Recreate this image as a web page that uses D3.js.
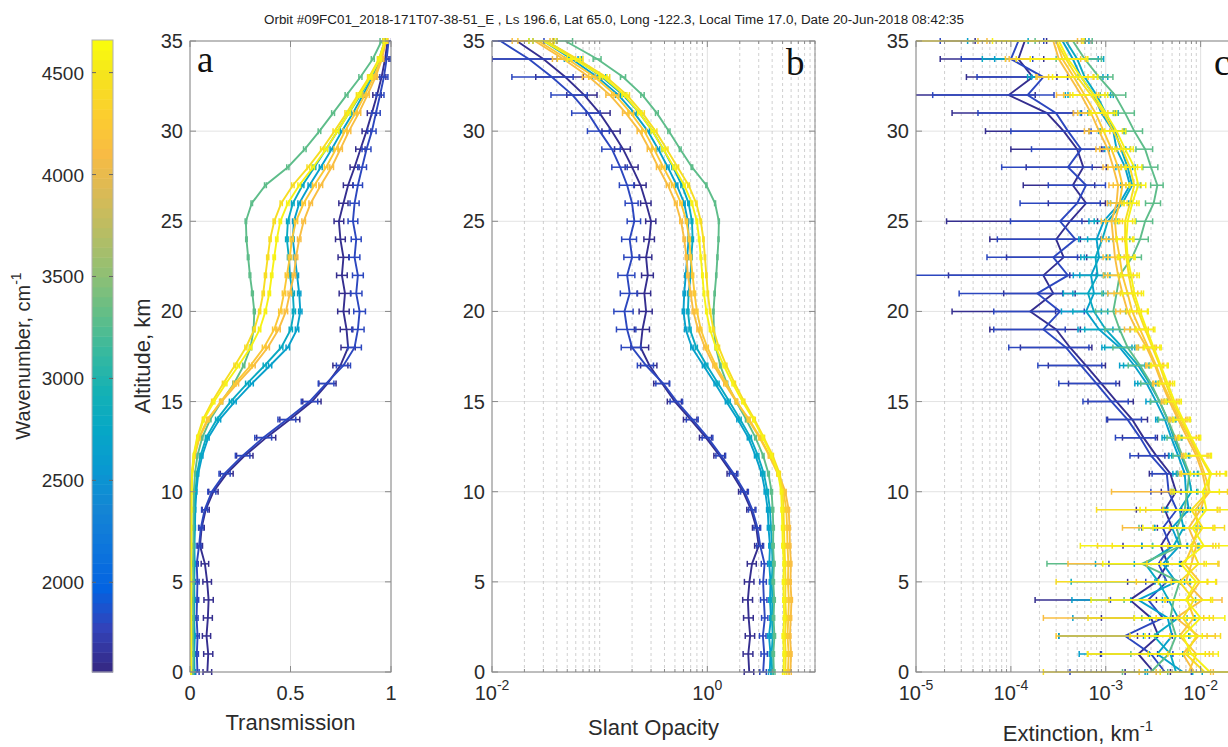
<!DOCTYPE html>
<html><head><meta charset="utf-8">
<script src="https://cdn.jsdelivr.net/npm/d3@7"></script>
<style>
body{margin:0;background:#fff}
svg{display:block;font-family:'Liberation Sans',Arial,Helvetica,sans-serif}
</style>
</head><body>
<svg id="chart" width="1228" height="747"></svg>
<script>
// ---------------- DATA ----------------
const titleText = "Orbit #09FC01_2018-171T07-38-51_E , Ls 196.6, Lat 65.0, Long -122.3, Local Time 17.0, Date 20-Jun-2018 08:42:35";
const altitudeKm = [0,1,2,3,4,5,6,7,8,9,10,11,12,13,14,15,16,17,18,19,20,21,22,23,24,25,26,27,28,29,30,31,32,33,34,35];
const wavenumbers = [1590, 1780, 2650, 2780, 3300, 4150, 4250, 4450, 4600];

// slant opacity (transmission = exp(-slant opacity))
const opacity1590 = [2.45,2.40,2.50,2.42,2.38,2.46,2.60,3.00,2.85,2.55,2.15,1.70,1.30,0.97,0.70,0.50,0.38,0.29,0.24,0.25,0.27,0.26,0.28,0.27,0.29,0.30,0.27,0.24,0.20,0.165,0.13,0.10,0.072,0.048,0.030,0.017];
const opacity1780 = [3.30,3.38,3.28,3.42,3.35,3.30,3.40,3.10,2.92,2.62,2.22,1.76,1.34,1.01,0.73,0.52,0.39,0.27,0.20,0.18,0.17,0.19,0.18,0.20,0.19,0.21,0.20,0.18,0.155,0.13,0.10,0.078,0.056,0.036,0.022,0.012];
const opacity2650 = [3.80,3.86,3.74,3.90,3.82,3.86,3.76,3.82,3.70,3.64,3.45,3.20,2.80,2.40,1.92,1.50,1.18,0.92,0.72,0.63,0.60,0.61,0.63,0.65,0.67,0.66,0.61,0.52,0.43,0.35,0.28,0.21,0.15,0.095,0.055,0.030];
const opacity2780 = [4.00,3.95,4.05,3.98,4.02,3.96,4.04,3.98,3.90,3.82,3.62,3.35,2.95,2.52,2.02,1.60,1.26,0.99,0.79,0.69,0.66,0.67,0.70,0.71,0.73,0.72,0.67,0.58,0.48,0.39,0.31,0.235,0.165,0.105,0.060,0.032];
const opacity3300 = [4.15,4.10,4.20,4.12,4.18,4.10,4.16,4.08,4.10,4.05,3.95,3.70,3.30,2.80,2.30,1.85,1.52,1.32,1.20,1.15,1.14,1.17,1.21,1.24,1.27,1.28,1.18,0.98,0.72,0.56,0.44,0.34,0.25,0.165,0.095,0.048];
const opacity4150 = [5.90,6.00,5.85,5.95,6.05,5.90,5.98,5.85,5.80,5.70,5.30,4.60,3.80,3.10,2.45,1.85,1.45,1.15,0.95,0.82,0.74,0.70,0.66,0.64,0.61,0.57,0.51,0.43,0.35,0.29,0.235,0.175,0.125,0.080,0.046,0.025];
const opacity4250 = [5.60,5.70,5.55,5.65,5.72,5.60,5.66,5.55,5.50,5.42,5.10,4.50,3.75,3.05,2.40,1.88,1.50,1.20,1.00,0.87,0.80,0.76,0.73,0.70,0.68,0.64,0.57,0.48,0.39,0.32,0.26,0.195,0.14,0.090,0.050,0.027];
const opacity4450 = [5.30,5.35,5.25,5.40,5.30,5.32,5.28,5.20,5.15,5.10,5.00,4.70,4.05,3.35,2.75,2.20,1.80,1.50,1.28,1.14,1.06,1.01,0.98,0.95,0.92,0.87,0.79,0.67,0.53,0.42,0.33,0.25,0.18,0.115,0.062,0.032];
const opacity4600 = [5.10,5.15,5.05,5.18,5.12,5.08,5.14,5.02,4.98,4.92,4.85,4.55,3.95,3.28,2.68,2.12,1.72,1.42,1.20,1.06,0.98,0.93,0.90,0.87,0.84,0.80,0.72,0.61,0.49,0.39,0.31,0.235,0.17,0.108,0.058,0.030];
// typical 1-sigma slant opacity error by altitude, and per-wavenumber factor
const opacityErr = [0.10,0.10,0.10,0.10,0.10,0.10,0.10,0.10,0.09,0.09,0.08,0.07,0.06,0.05,0.04,0.03,0.025,0.02,0.018,0.016,0.015,0.015,0.014,0.014,0.013,0.013,0.012,0.012,0.011,0.011,0.010,0.010,0.009,0.009,0.008,0.008];
const opacityErrFactor = [2.5, 2.3, 1.0, 1.0, 1.0, 1.2, 1.2, 1.0, 1.0];

// extinction, in units of 1e-3 km^-1
const extinction1590 = [3.2,2.2,3.6,3.0,1.8,3.4,4.5,3.8,5.0,4.2,5.5,4.8,3.4,2.5,1.9,1.3,0.9,0.62,0.42,0.30,0.16,0.28,0.22,0.36,0.30,0.42,0.62,0.45,0.58,0.50,0.36,0.24,0.095,0.17,0.12,0.14];
const extinction1780 = [4.2,3.0,1.6,4.0,2.8,4.4,3.6,4.8,4.0,5.6,4.6,4.4,3.0,2.3,1.7,1.15,0.8,0.55,0.38,0.22,0.33,0.19,0.40,0.28,0.48,0.33,0.50,0.62,0.40,0.55,0.40,0.30,0.15,0.22,0.10,0.12];
const extinction2650 = [6.5,3.5,5.0,4.5,2.2,5.5,4.0,6.0,5.0,7.5,7.0,6.8,5.8,4.9,4.2,3.4,2.7,2.0,1.4,0.85,0.62,0.75,0.70,0.85,0.80,0.95,1.4,1.8,1.6,1.3,1.2,0.9,0.75,0.55,0.45,0.35];
const extinction2780 = [5.5,4.8,3.2,5.8,4.6,3.6,2.6,5.2,6.6,6.0,8.0,7.4,6.2,5.2,4.5,3.7,2.9,2.2,1.5,1.0,0.75,0.65,0.82,0.78,0.92,1.05,1.5,1.9,1.7,1.45,1.25,1.0,0.8,0.6,0.5,0.38];
const extinction3300 = [3.0,4.6,5.5,4.8,5.2,6.0,2.4,6.2,5.6,6.8,7.2,7.6,6.4,5.4,4.5,3.7,3.0,2.3,1.7,1.4,1.2,1.3,1.4,1.9,2.3,2.6,3.2,3.5,3.0,2.6,2.0,1.6,1.25,0.85,0.6,0.45];
const extinction4150 = [8.5,6.5,9.5,5.5,10.5,7.0,8.0,9.0,7.5,10.0,11.5,10.5,9.0,7.2,5.8,4.7,3.9,3.3,2.7,2.1,1.7,1.5,1.35,1.25,1.2,1.15,1.3,1.35,1.2,1.05,0.85,0.7,0.55,0.42,0.32,0.28];
const extinction4250 = [7.5,9.0,6.0,8.5,7.2,9.8,6.8,8.2,9.4,8.8,12.5,11.0,9.4,7.6,6.0,4.9,4.0,3.4,2.8,2.3,1.9,1.7,1.5,1.4,1.3,1.25,1.4,1.5,1.35,1.15,0.95,0.78,0.6,0.46,0.35,0.3];
const extinction4450 = [11.0,7.0,9.0,6.5,8.5,6.0,9.5,7.8,10.5,8.0,12.0,12.5,9.8,7.8,6.3,5.1,4.3,3.7,3.1,2.6,2.2,1.9,1.75,1.65,1.6,1.6,1.8,2.0,1.8,1.5,1.2,0.95,0.7,0.5,0.38,0.3];
const extinction4600 = [12.5,8.0,6.5,10.0,7.0,9.0,6.2,10.8,8.2,11.5,10.5,13.0,10.0,8.0,6.5,5.3,4.5,3.8,3.2,2.7,2.3,2.0,1.85,1.7,1.65,1.7,1.9,2.2,2.0,1.6,1.3,1.0,0.75,0.55,0.4,0.32];
// extinction relative 1-sigma error
const extRelErr1590 = [0.5,0.6,0.4,0.7,0.9,0.5,0.4,0.6,0.3,0.5,0.3,0.4,0.35,0.4,0.45,0.5,0.55,0.6,0.7,0.8,0.85,0.7,0.9,0.75,0.8,0.95,0.6,0.7,0.75,0.8,0.85,0.9,0.9,0.8,0.85,0.7];
const extRelErr1780 = [0.9,0.7,0.8,0.5,0.6,0.4,0.7,0.5,0.4,0.3,0.35,0.3,0.4,0.45,0.4,0.5,0.6,0.65,0.75,0.7,0.8,0.85,0.99,0.8,0.85,0.7,0.75,0.6,0.8,0.7,0.75,0.85,0.9,0.8,0.7,0.85];
const extRelErr2650 = [0.6,0.85,0.5,0.9,0.8,0.4,0.5,0.6,0.35,0.4,0.3,0.25,0.2,0.2,0.2,0.22,0.25,0.3,0.35,0.4,0.45,0.4,0.35,0.3,0.35,0.3,0.25,0.2,0.2,0.25,0.3,0.4,0.5,0.7,0.85,0.9];
const extRelErr2780 = [0.5,0.4,0.9,0.5,0.6,0.88,0.7,0.4,0.5,0.3,0.35,0.25,0.2,0.2,0.22,0.2,0.25,0.3,0.35,0.4,0.4,0.45,0.35,0.3,0.3,0.28,0.25,0.22,0.2,0.25,0.3,0.35,0.5,0.75,0.9,0.6];
const extRelErr3300 = [0.5,0.6,0.4,0.5,0.7,0.3,0.9,0.5,0.6,0.4,0.3,0.25,0.2,0.18,0.2,0.2,0.22,0.25,0.3,0.3,0.35,0.3,0.3,0.25,0.22,0.2,0.18,0.15,0.18,0.2,0.22,0.25,0.3,0.4,0.5,0.6];
const extRelErr4150 = [0.6,0.9,0.5,0.96,0.6,0.7,0.95,0.5,0.8,0.6,0.9,0.4,0.3,0.25,0.2,0.18,0.2,0.2,0.22,0.25,0.25,0.3,0.3,0.25,0.25,0.22,0.2,0.2,0.22,0.25,0.3,0.35,0.45,0.55,0.7,0.8];
const extRelErr4250 = [0.7,0.5,0.95,0.6,0.85,0.5,0.6,0.9,0.5,0.7,0.6,0.45,0.3,0.25,0.2,0.18,0.2,0.2,0.22,0.22,0.25,0.28,0.3,0.25,0.22,0.2,0.2,0.2,0.22,0.25,0.3,0.35,0.4,0.6,0.75,0.85];
const extRelErr4450 = [0.98,0.6,0.8,0.9,0.5,0.95,0.6,0.85,0.7,0.9,0.6,0.5,0.3,0.25,0.2,0.18,0.18,0.2,0.2,0.22,0.25,0.25,0.22,0.2,0.2,0.2,0.18,0.18,0.2,0.22,0.25,0.3,0.4,0.5,0.7,0.99];
const extRelErr4600 = [0.7,0.92,0.6,0.8,0.9,0.6,0.85,0.95,0.7,0.8,0.5,0.4,0.3,0.25,0.2,0.18,0.18,0.2,0.2,0.22,0.22,0.25,0.22,0.2,0.2,0.2,0.18,0.2,0.2,0.22,0.25,0.3,0.4,0.5,0.6,0.8];

const altitudeTicks = [0,5,10,15,20,25,30,35];
const colorbarTicks = [2000,2500,3000,3500,4000,4500];
const colorbarRange = [1560, 4660];

// parula colormap stops (colormap, not data)
const parulaStops = [[0.2081,0.1663,0.5292],[0.1959,0.2645,0.7279],[0.0117,0.3875,0.8820],[0.0498,0.4586,0.8641],[0.0793,0.5200,0.8312],[0.0343,0.5966,0.8199],[0.0228,0.6535,0.7768],[0.0843,0.6928,0.7062],[0.2178,0.7250,0.6193],[0.3953,0.7459,0.5244],[0.5709,0.7485,0.4494],[0.7184,0.7411,0.3905],[0.8507,0.7299,0.3360],[0.9739,0.7314,0.2666],[0.9880,0.8066,0.1794],[0.9589,0.8949,0.1132],[0.9763,0.9831,0.0538]];
const parulaPos = [0,4,8,12,16,20,24,28,32,36,40,44,48,52,56,60,63];

// ---------------- BUILD ----------------
const opacities = [opacity1590,opacity1780,opacity2650,opacity2780,opacity3300,opacity4150,opacity4250,opacity4450,opacity4600];
const extinctions = [extinction1590,extinction1780,extinction2650,extinction2780,extinction3300,extinction4150,extinction4250,extinction4450,extinction4600];
const extErrs = [extRelErr1590,extRelErr1780,extRelErr2650,extRelErr2780,extRelErr3300,extRelErr4150,extRelErr4250,extRelErr4450,extRelErr4600];

const parula = d3.scaleLinear().domain(parulaPos.map(p=>p/63))
  .range(parulaStops.map(c=>d3.rgb(c[0]*255,c[1]*255,c[2]*255).formatHex()))
  .interpolate(d3.interpolateRgb).clamp(true);
const wnColor = wn => parula((wn-colorbarRange[0])/(colorbarRange[1]-colorbarRange[0]));

const series = wavenumbers.map((wn,i)=>({
  wn, color: wnColor(wn),
  a: altitudeKm.map((h,k)=>{const T=Math.exp(-opacities[i][k]); const s=T*opacityErr[k]*opacityErrFactor[i]; return {h,v:T,lo:T-s,hi:T+s};}),
  b: altitudeKm.map((h,k)=>{const t=opacities[i][k]; const s=opacityErr[k]*opacityErrFactor[i]; return {h,v:t,lo:t-s,hi:t+s};}),
  c: altitudeKm.map((h,k)=>{const e=extinctions[i][k]*1e-3; const s=e*extErrs[i][k]; return {h,v:e,lo:e-s,hi:e+s};})
}));

const svg = d3.select('#chart');
const TXT = '#2b2b2b', AX = '#8a8a8a';
const y = d3.scaleLinear().domain([0,35]).range([672,41]);

svg.append('text').attr('x',614).attr('y',24).attr('text-anchor','middle')
  .attr('font-size',12).attr('fill','#222').attr('textLength',700).attr('lengthAdjust','spacingAndGlyphs').text(titleText);

const panels = [
  {id:'a', x:d3.scaleLinear().domain([0,1]).range([190,391]), log:false, major:[0,0.5,1], title:'Transmission', titleY:730, letter:'a', lx:197, ly:72},
  {id:'b', x:d3.scaleLog().domain([0.01,10]).range([492,815]), log:true, major:[0.01,1], title:'Slant Opacity', titleY:735, letter:'b', lx:786, ly:75},
  {id:'c', x:d3.scaleLog().domain([1e-5,0.026]).range([916,1240]), log:true, major:[1e-5,1e-4,1e-3,1e-2], title:'Extinction, km', sup:'-1', titleY:741, letter:'c', lx:1214, ly:75}
];

panels.forEach(p=>{
  const [x0,x1] = p.x.range(), yt=41, yb=672;
  const g = svg.append('g');
  // grid
  const minor = p.log ? p.x.ticks().filter(t=>!p.major.some(m=>Math.abs(Math.log10(m)-Math.log10(t))<1e-6)) : [];
  g.selectAll('.hg').data(altitudeTicks).join('line').attr('x1',x0).attr('x2',x1).attr('y1',d=>y(d)).attr('y2',d=>y(d)).attr('stroke','#e3e3e3').attr('stroke-width',1);
  g.selectAll('.mg').data(minor).join('line').attr('x1',d=>p.x(d)).attr('x2',d=>p.x(d)).attr('y1',yt).attr('y2',yb).attr('stroke','#c4c4c4').attr('stroke-width',0.8).attr('stroke-dasharray','3,3');
  g.selectAll('.vg').data(p.major).join('line').attr('x1',d=>p.x(d)).attr('x2',d=>p.x(d)).attr('y1',yt).attr('y2',yb).attr('stroke','#e0e0e0').attr('stroke-width',1);
  // clip
  const cid='clip-'+p.id;
  svg.append('clipPath').attr('id',cid).append('rect').attr('x',x0).attr('y',yt-3).attr('width',x1-x0).attr('height',yb-yt+6);
  const dg = svg.append('g').attr('clip-path',`url(#${cid})`);
  const [dmin] = p.x.domain();
  const xs = v => p.x(Math.max(v, dmin*0.5));
  series.forEach(s=>{
    const pts = s[p.id];
    const sg = dg.append('g').attr('stroke',s.color).attr('fill','none');
    const eb = sg.selectAll('g.eb').data(pts).join('g');
    eb.append('line').attr('x1',d=>xs(d.lo)).attr('x2',d=>xs(d.hi)).attr('y1',d=>y(d.h)).attr('y2',d=>y(d.h)).attr('stroke-width',1.5);
    eb.append('line').attr('x1',d=>xs(d.lo)).attr('x2',d=>xs(d.lo)).attr('y1',d=>y(d.h)-3).attr('y2',d=>y(d.h)+3).attr('stroke-width',1.5);
    eb.append('line').attr('x1',d=>xs(d.hi)).attr('x2',d=>xs(d.hi)).attr('y1',d=>y(d.h)-3).attr('y2',d=>y(d.h)+3).attr('stroke-width',1.5);
    sg.append('path').attr('d',d3.line().x(d=>p.x(d.v)).y(d=>y(d.h))(pts)).attr('stroke-width',1.9);
  });
  // box
  const bg = svg.append('g').attr('stroke',AX).attr('stroke-width',1).attr('fill','none');
  bg.append('rect').attr('x',x0).attr('y',yt).attr('width',x1-x0).attr('height',yb-yt);
  altitudeTicks.forEach(t=>{
    bg.append('line').attr('x1',x0).attr('x2',x0+6).attr('y1',y(t)).attr('y2',y(t));
    bg.append('line').attr('x1',x1).attr('x2',x1-6).attr('y1',y(t)).attr('y2',y(t));
  });
  p.major.forEach(t=>{
    bg.append('line').attr('x1',p.x(t)).attr('x2',p.x(t)).attr('y1',yb).attr('y2',yb-6);
    bg.append('line').attr('x1',p.x(t)).attr('x2',p.x(t)).attr('y1',yt).attr('y2',yt+6);
  });
  minor.forEach(t=>{
    bg.append('line').attr('x1',p.x(t)).attr('x2',p.x(t)).attr('y1',yb).attr('y2',yb-3);
    bg.append('line').attr('x1',p.x(t)).attr('x2',p.x(t)).attr('y1',yt).attr('y2',yt+3);
  });
  // y tick labels
  svg.append('g').selectAll('text').data(altitudeTicks).join('text')
    .attr('x',x0-7).attr('y',d=>y(d)+7).attr('text-anchor','end').attr('font-size',20).attr('fill',TXT).text(d=>d);
  // x tick labels
  p.major.forEach(t=>{
    const tx = svg.append('text').attr('x',p.x(t)).attr('y',700).attr('text-anchor','middle').attr('font-size',20).attr('fill',TXT);
    if(p.log){
      tx.append('tspan').text('10');
      tx.append('tspan').attr('dy',-10).attr('font-size',14).text(String(Math.round(Math.log10(t))));
    } else tx.text(t===0.5?'0.5':String(t));
  });
  // axis title
  const tt = svg.append('text').attr('x',(x0+x1)/2).attr('y',p.titleY).attr('text-anchor','middle').attr('font-size',22).attr('fill',TXT).text(p.title);
  if(p.sup) tt.append('tspan').attr('dy',-10).attr('font-size',15).text(p.sup);
  // panel letter
  svg.append('text').attr('x',p.lx).attr('y',p.ly).attr('font-family',"'Liberation Serif','Times New Roman',serif").attr('font-size',37).attr('fill','#111').text(p.letter);
});

// y axis label
svg.append('text').attr('transform','translate(150,356) rotate(-90)').attr('text-anchor','middle').attr('font-size',22).attr('fill',TXT).text('Altitude, km');

// colorbar
const cb = d3.scaleLinear().domain(colorbarRange).range([672,40]);
const cbx0=92, cbx1=113;
const nBins=64, binH=(672-40)/nBins;
const cbg = svg.append('g');
cbg.selectAll('rect').data(d3.range(nBins)).join('rect')
  .attr('x',cbx0).attr('width',cbx1-cbx0).attr('y',i=>672-(i+1)*binH).attr('height',binH+0.5)
  .attr('fill',i=>parula(i/(nBins-1)));
cbg.append('rect').attr('x',cbx0).attr('y',40).attr('width',cbx1-cbx0).attr('height',632).attr('fill','none').attr('stroke','#b0b0b0').attr('stroke-width',1);
colorbarTicks.forEach(t=>{
  cbg.append('line').attr('x1',cbx0).attr('x2',cbx0+4).attr('y1',cb(t)).attr('y2',cb(t)).attr('stroke','#666');
  cbg.append('line').attr('x1',cbx1).attr('x2',cbx1-4).attr('y1',cb(t)).attr('y2',cb(t)).attr('stroke','#666');
  cbg.append('text').attr('x',cbx0-8).attr('y',cb(t)+7).attr('text-anchor','end').attr('font-size',19).attr('fill',TXT).text(t);
});
const wl = svg.append('text').attr('transform','translate(30,356) rotate(-90)').attr('text-anchor','middle').attr('font-size',20).attr('fill',TXT).text('Wavenumber, cm');
wl.append('tspan').attr('dy',-9).attr('font-size',14).text('-1');
</script>
</body></html>
